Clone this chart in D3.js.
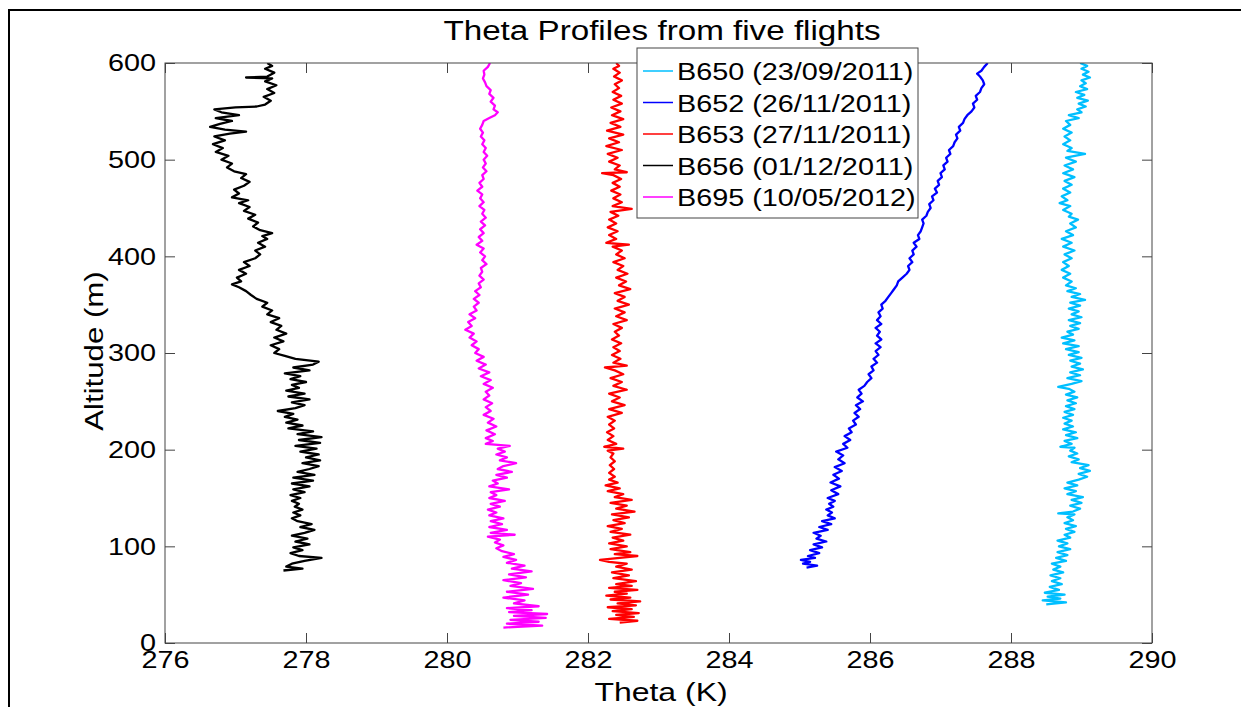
<!DOCTYPE html>
<html lang="en">
<head>
<meta charset="utf-8">
<title>Theta Profiles from five flights</title>
<script src="https://cdnjs.cloudflare.com/ajax/libs/d3/7.8.5/d3.min.js"></script>
<style>
  body { margin: 0; background: #fff; }
  svg { display: block; font-family: "Liberation Sans", Arial, sans-serif; }
  .axis text { font-size: 24px; fill: #000; font-family: "Liberation Sans", Arial, sans-serif; }
  .axis line { stroke: #444; }
  .axis path { display: none; }
</style>
</head>
<body>
<script>

// tick labels
var thetaTicks = [276, 278, 280, 282, 284, 286, 288, 290];
var altTicks = [0, 100, 200, 300, 400, 500, 600];

// flights, in the legend's order
var flightNames = ["B650 (23/09/2011)", "B652 (26/11/2011)", "B653 (27/11/2011)", "B656 (01/12/2011)", "B695 (10/05/2012)"];
var flightColors = ["#00bfff", "#0000ff", "#ff0000", "#000000", "#ff00ff"];

// [altitude (m), theta (K)]
var b650 = [[40,288.50],[42,288.78],[44,288.45],[46,288.70],[48,288.52],[50,288.76],[52,288.48],[55,288.68],[58,288.55],[61,288.72],[64,288.58],[67,288.70],[70,288.56],[73,288.74],[76,288.60],[79,288.70],[82,288.58],[85,288.78],[88,288.64],[91,288.80],[94,288.66],[97,288.84],[100,288.68],[103,288.80],[106,288.66],[109,288.84],[112,288.76],[115,288.90],[118,288.78],[121,288.92],[124,288.76],[127,288.88],[130,288.80],[133,288.90],[134,288.67],[136,288.88],[139,288.98],[142,288.84],[145,289.00],[148,288.86],[151,289.02],[154,288.80],[157,288.92],[160,288.76],[163,288.94],[166,288.80],[169,288.96],[172,289.08],[175,288.96],[178,289.12],[181,288.98],[184,289.10],[187,288.86],[190,288.96],[193,288.82],[196,288.94],[199,288.84],[202,288.90],[203,288.70],[206,288.86],[209,288.76],[212,288.94],[215,288.78],[218,288.92],[221,288.74],[224,288.88],[227,288.76],[230,288.86],[233,288.74],[236,288.88],[239,288.76],[242,288.90],[245,288.78],[248,288.92],[251,288.80],[254,288.94],[257,288.78],[260,288.90],[263,288.82],[265,288.67],[268,288.86],[271,289.00],[274,288.80],[277,288.98],[280,288.84],[283,289.02],[286,288.86],[289,288.98],[292,288.84],[295,289.00],[298,288.82],[301,288.96],[304,288.78],[307,288.96],[310,288.74],[313,288.90],[316,288.72],[319,288.88],[322,288.80],[325,288.96],[328,288.84],[331,288.98],[334,288.82],[337,289.00],[340,288.86],[343,288.96],[346,288.82],[349,288.98],[352,288.84],[355,289.05],[358,288.86],[361,288.98],[364,288.80],[367,288.92],[370,288.78],[374,288.86],[378,288.74],[382,288.84],[386,288.72],[390,288.82],[394,288.74],[398,288.86],[402,288.76],[406,288.90],[410,288.74],[414,288.86],[418,288.72],[422,288.88],[426,288.78],[430,288.92],[434,288.84],[438,288.95],[441,288.82],[444,288.86],[448,288.74],[452,288.84],[455,288.69],[458,288.80],[462,288.72],[466,288.84],[470,288.74],[474,288.86],[478,288.76],[482,288.90],[486,288.74],[490,288.88],[494,288.76],[498,288.92],[502,288.78],[506,289.05],[509,288.80],[512,288.86],[516,288.74],[520,288.84],[524,288.76],[528,288.86],[532,288.74],[536,288.84],[540,288.78],[543,288.96],[546,288.82],[549,289.00],[552,288.94],[555,289.06],[558,288.96],[561,289.09],[564,288.94],[567,289.04],[570,288.92],[573,289.08],[576,288.98],[579,289.06],[582,289.00],[585,289.12],[588,289.02],[591,289.10],[594,289.00],[597,289.08],[600,288.98]];

var b652 = [[78,285.10],[80,285.25],[82,285.05],[84,285.15],[86,285.02],[88,285.22],[90,285.12],[93,285.28],[96,285.15],[99,285.32],[102,285.20],[105,285.38],[108,285.24],[111,285.30],[114,285.20],[117,285.40],[120,285.28],[123,285.45],[126,285.32],[129,285.50],[132,285.40],[135,285.46],[138,285.38],[141,285.48],[144,285.42],[147,285.50],[150,285.40],[154,285.55],[158,285.45],[162,285.58],[166,285.44],[170,285.56],[174,285.48],[178,285.60],[182,285.50],[186,285.64],[190,285.55],[194,285.62],[198,285.52],[202,285.68],[206,285.62],[210,285.72],[214,285.64],[218,285.74],[222,285.70],[226,285.80],[230,285.76],[234,285.84],[238,285.78],[242,285.86],[246,285.80],[250,285.90],[254,285.82],[258,285.88],[262,285.84],[266,285.92],[270,285.96],[274,286.02],[278,285.98],[282,286.05],[286,286.02],[290,286.10],[294,286.05],[298,286.12],[302,286.08],[306,286.15],[310,286.08],[314,286.16],[318,286.10],[322,286.14],[326,286.08],[330,286.16],[334,286.10],[338,286.15],[342,286.12],[346,286.18],[350,286.16],[354,286.22],[358,286.26],[362,286.30],[366,286.34],[370,286.38],[374,286.40],[378,286.46],[382,286.52],[386,286.56],[390,286.54],[394,286.60],[398,286.56],[402,286.62],[406,286.60],[410,286.66],[414,286.62],[418,286.70],[422,286.68],[426,286.72],[430,286.74],[434,286.76],[438,286.74],[442,286.80],[446,286.82],[450,286.86],[454,286.84],[458,286.90],[462,286.88],[466,286.95],[470,286.92],[474,286.98],[478,286.96],[482,287.02],[486,287.00],[490,287.06],[494,287.04],[498,287.10],[502,287.08],[506,287.14],[510,287.12],[514,287.18],[518,287.20],[522,287.24],[526,287.22],[530,287.28],[534,287.26],[538,287.32],[542,287.34],[546,287.38],[550,287.44],[554,287.48],[558,287.46],[562,287.52],[566,287.50],[570,287.56],[574,287.58],[578,287.62],[582,287.60],[586,287.56],[589,287.52],[592,287.58],[596,287.62],[600,287.67]];

var b653 = [[21,282.45],[23,282.70],[25,282.30],[27,282.65],[29,282.40],[31,282.72],[33,282.35],[35,282.62],[37,282.28],[39,282.68],[41,282.42],[43,282.74],[45,282.32],[47,282.60],[49,282.26],[51,282.55],[53,282.38],[55,282.70],[57,282.30],[59,282.62],[61,282.40],[64,282.68],[67,282.36],[70,282.58],[73,282.34],[76,282.62],[79,282.40],[82,282.55],[84,282.30],[86,282.17],[88,282.45],[90,282.70],[92,282.38],[94,282.60],[97,282.32],[100,282.55],[103,282.30],[106,282.50],[109,282.35],[112,282.60],[115,282.32],[118,282.48],[121,282.28],[124,282.52],[127,282.36],[130,282.58],[133,282.34],[136,282.66],[139,282.40],[142,282.55],[145,282.32],[148,282.62],[151,282.38],[154,282.50],[157,282.28],[160,282.45],[163,282.25],[166,282.42],[169,282.30],[172,282.38],[176,282.30],[180,282.37],[184,282.31],[188,282.38],[192,282.32],[196,282.36],[199,282.28],[201,282.50],[203,282.23],[206,282.40],[210,282.28],[214,282.36],[218,282.27],[222,282.37],[226,282.30],[230,282.38],[234,282.28],[238,282.48],[242,282.30],[246,282.52],[250,282.34],[254,282.45],[258,282.30],[262,282.55],[266,282.36],[270,282.48],[274,282.32],[278,282.50],[282,282.38],[285,282.24],[287,282.55],[290,282.36],[294,282.46],[298,282.34],[302,282.45],[306,282.36],[310,282.47],[314,282.34],[318,282.44],[322,282.38],[326,282.48],[330,282.36],[334,282.55],[338,282.40],[342,282.52],[346,282.38],[350,282.58],[354,282.42],[358,282.52],[362,282.38],[366,282.60],[370,282.44],[374,282.54],[378,282.40],[382,282.56],[386,282.42],[390,282.50],[394,282.36],[398,282.52],[402,282.40],[406,282.48],[410,282.35],[412,282.58],[414,282.26],[418,282.40],[422,282.30],[426,282.42],[430,282.28],[434,282.40],[438,282.30],[442,282.43],[446,282.32],[449,282.62],[452,282.35],[456,282.48],[460,282.36],[464,282.46],[468,282.33],[472,282.45],[476,282.35],[480,282.47],[484,282.36],[486,282.20],[487,282.55],[490,282.38],[494,282.45],[498,282.30],[502,282.42],[506,282.28],[510,282.48],[514,282.26],[518,282.44],[522,282.30],[526,282.50],[530,282.27],[534,282.46],[538,282.32],[542,282.50],[546,282.34],[550,282.46],[554,282.33],[558,282.48],[562,282.36],[566,282.47],[570,282.35],[574,282.44],[578,282.38],[582,282.48],[586,282.37],[590,282.45],[594,282.36],[597,282.44],[600,282.40]];

var b656 = [[75,277.68],[77,277.95],[79,277.72],[82,277.80],[85,277.98],[88,278.22],[90,277.90],[93,277.78],[96,277.95],[99,277.82],[102,278.05],[105,277.85],[108,278.02],[111,277.80],[114,277.98],[117,278.12],[120,277.92],[123,278.08],[126,277.88],[129,277.80],[132,277.92],[135,277.82],[138,277.95],[141,277.84],[144,277.90],[147,277.80],[150,277.92],[153,277.78],[156,277.98],[159,277.82],[162,278.05],[165,277.80],[168,278.10],[171,277.82],[174,278.12],[177,277.88],[180,278.05],[183,278.18],[186,277.95],[189,278.20],[192,278.00],[195,278.18],[198,277.92],[201,278.15],[204,277.85],[207,278.20],[210,277.90],[213,278.22],[216,277.88],[219,278.10],[222,277.75],[225,277.95],[228,277.72],[231,277.88],[234,277.70],[237,277.82],[240,277.60],[243,277.85],[246,277.98],[249,277.80],[252,278.05],[255,277.75],[258,277.98],[261,277.72],[264,277.90],[267,277.80],[270,278.00],[273,277.78],[276,277.92],[279,277.70],[282,278.05],[285,277.82],[288,278.10],[291,278.18],[294,277.85],[297,277.70],[300,277.55],[304,277.62],[308,277.50],[312,277.68],[316,277.55],[320,277.72],[324,277.58],[328,277.65],[332,277.50],[336,277.62],[340,277.45],[344,277.52],[348,277.38],[352,277.45],[356,277.30],[360,277.22],[364,277.15],[368,277.05],[371,276.95],[374,277.08],[378,277.02],[382,277.15],[386,277.05],[390,277.20],[394,277.12],[398,277.28],[402,277.35],[406,277.28],[410,277.42],[414,277.32],[418,277.45],[421,277.38],[424,277.52],[427,277.35],[431,277.25],[435,277.32],[439,277.18],[443,277.28],[447,277.12],[451,277.20],[455,277.05],[458,277.18],[461,276.95],[465,277.05],[469,276.98],[473,277.12],[477,277.20],[481,277.08],[485,277.15],[488,276.98],[492,276.88],[496,276.95],[500,276.80],[504,276.90],[508,276.72],[512,276.82],[516,276.68],[520,276.85],[524,276.70],[527,276.92],[529,277.15],[531,276.85],[534,276.64],[537,276.78],[540,276.95],[543,276.72],[546,277.05],[549,276.80],[552,276.70],[554,277.00],[555,277.30],[557,277.42],[561,277.50],[565,277.40],[569,277.55],[573,277.45],[577,277.58],[581,277.42],[584,277.52],[585,277.15],[586,277.45],[590,277.55],[594,277.42],[597,277.52],[600,277.45]];

var b695 = [[16,280.80],[18,281.35],[20,280.85],[22,281.30],[24,280.90],[26,281.40],[28,280.95],[30,281.42],[32,280.88],[34,281.20],[36,280.85],[38,281.30],[41,280.95],[44,281.10],[47,280.80],[50,281.15],[53,280.85],[56,281.22],[59,280.90],[62,281.05],[65,280.80],[68,281.12],[71,280.88],[74,281.20],[77,280.92],[80,281.10],[83,280.85],[86,280.98],[89,280.80],[92,280.95],[95,280.78],[98,280.70],[101,280.80],[104,280.68],[107,280.75],[110,280.58],[112,280.96],[114,280.62],[117,280.85],[120,280.60],[123,280.78],[126,280.62],[129,280.80],[132,280.60],[135,280.70],[138,280.58],[141,280.75],[144,280.62],[147,280.82],[150,280.60],[153,280.70],[156,280.62],[159,280.88],[162,280.60],[165,280.72],[168,280.65],[171,280.85],[174,280.70],[177,280.92],[180,280.72],[183,280.80],[186,280.98],[189,280.75],[192,280.85],[195,280.70],[198,280.82],[201,280.72],[204,280.89],[206,280.55],[209,280.65],[212,280.55],[216,280.68],[220,280.56],[224,280.70],[228,280.58],[232,280.66],[236,280.52],[240,280.62],[244,280.55],[248,280.64],[252,280.52],[256,280.60],[260,280.55],[264,280.65],[268,280.52],[272,280.62],[276,280.48],[280,280.60],[284,280.45],[288,280.55],[292,280.42],[296,280.52],[300,280.40],[304,280.45],[308,280.35],[312,280.42],[316,280.32],[320,280.38],[324,280.26],[328,280.35],[332,280.30],[336,280.40],[340,280.32],[344,280.42],[348,280.38],[352,280.45],[356,280.38],[360,280.46],[364,280.40],[368,280.48],[372,280.45],[376,280.52],[380,280.46],[384,280.50],[388,280.48],[392,280.56],[396,280.50],[400,280.54],[404,280.47],[408,280.52],[412,280.42],[416,280.50],[420,280.45],[424,280.52],[428,280.47],[432,280.54],[436,280.48],[440,280.55],[444,280.50],[448,280.53],[452,280.46],[456,280.52],[460,280.47],[464,280.50],[468,280.43],[472,280.50],[476,280.46],[480,280.52],[484,280.50],[488,280.56],[492,280.51],[496,280.55],[500,280.52],[504,280.57],[508,280.52],[512,280.55],[516,280.50],[520,280.53],[524,280.48],[528,280.51],[532,280.47],[536,280.50],[540,280.52],[543,280.60],[546,280.68],[549,280.72],[552,280.66],[556,280.68],[560,280.62],[564,280.66],[568,280.60],[572,280.62],[576,280.56],[580,280.54],[584,280.51],[588,280.53],[592,280.52],[596,280.58],[600,280.61]];

var flightData = [b650, b652, b653, b656, b695];

//Width and height
var w = 1241;
var h = 707;
var plotLeft = 165, plotRight = 1152, plotTop = 63, plotBottom = 643;
var stretch = 1.2;   // the reference text is drawn wider than the font

var svg = d3.select("body")
    .append("svg")
    .attr("width", w)
    .attr("height", h);

//Figure frame
svg.append("rect")
    .attr("x", 9).attr("y", 10)
    .attr("width", w + 20).attr("height", h + 20)
    .attr("fill", "#fff")
    .attr("stroke", "#000")
    .attr("stroke-width", 2);

//Scales
var xScale = d3.scaleLinear().domain([276, 290]).range([plotLeft, plotRight]);
var yScale = d3.scaleLinear().domain([0, 600]).range([plotBottom, plotTop]);

//Clip to the axes box
svg.append("clipPath").attr("id", "plotclip")
    .append("rect")
    .attr("x", plotLeft).attr("y", plotTop)
    .attr("width", plotRight - plotLeft).attr("height", plotBottom - plotTop);

//Profiles
var line = d3.line()
    .x(function(d) { return xScale(d[1]); })
    .y(function(d) { return yScale(d[0]); });

svg.append("g")
    .attr("clip-path", "url(#plotclip)")
    .selectAll("path")
    .data(flightData)
    .enter()
    .append("path")
    .attr("d", line)
    .attr("fill", "none")
    .attr("stroke", function(d, i) { return flightColors[i]; })
    .attr("stroke-width", 2.3)
    .attr("stroke-linejoin", "round");

//Axes (ticks pointing inward, labels on bottom and left only)
var xAxisG = svg.append("g").attr("class", "axis")
    .attr("transform", "translate(0," + plotBottom + ")")
    .call(d3.axisBottom(xScale).tickValues(thetaTicks).tickSizeInner(-10).tickSizeOuter(0).tickPadding(8));
svg.append("g").attr("class", "axis")
    .attr("transform", "translate(0," + plotTop + ")")
    .call(d3.axisTop(xScale).tickValues(thetaTicks).tickSizeInner(-10).tickSizeOuter(0).tickFormat(""));
var yAxisG = svg.append("g").attr("class", "axis")
    .attr("transform", "translate(" + plotLeft + ",0)")
    .call(d3.axisLeft(yScale).tickValues(altTicks).tickSizeInner(-10).tickSizeOuter(0).tickPadding(9));
svg.append("g").attr("class", "axis")
    .attr("transform", "translate(" + plotRight + ",0)")
    .call(d3.axisRight(yScale).tickValues(altTicks).tickSizeInner(-10).tickSizeOuter(0).tickFormat(""));

//widen tick labels like the reference
xAxisG.selectAll("text").attr("transform", "scale(" + stretch + ",1)");
yAxisG.selectAll("text").each(function() {
    var t = d3.select(this);
    var x = +t.attr("x");
    t.attr("transform", "translate(" + x + ",0) scale(" + stretch + ",1) translate(" + (-x) + ",0)");
});

//Axes box
svg.append("rect")
    .attr("x", plotLeft).attr("y", plotTop)
    .attr("width", plotRight - plotLeft).attr("height", plotBottom - plotTop)
    .attr("fill", "none")
    .attr("stroke", "#444")
    .attr("stroke-width", 1);

//Title and axis labels
function wideText(x, y, size, sx, str, rotate) {
    return svg.append("text")
        .attr("transform", "translate(" + x + "," + y + ")" + (rotate ? " rotate(-90)" : "") + " scale(" + sx + ",1)")
        .attr("text-anchor", "middle")
        .attr("font-size", size)
        .text(str);
}
wideText(662, 40, 27, 1.23, "Theta Profiles from five flights");
wideText(661, 701, 26, 1.23, "Theta (K)");
wideText(103, 351, 26, 1.2, "Altitude (m)", true);

//Legend
var legend = svg.append("g");
legend.append("rect")
    .attr("x", 637).attr("y", 48)
    .attr("width", 281).attr("height", 170)
    .attr("fill", "#fff")
    .attr("stroke", "#444")
    .attr("stroke-width", 1);

var rows = legend.selectAll("g.row")
    .data(flightNames)
    .enter()
    .append("g")
    .attr("class", "row")
    .attr("transform", function(d, i) { return "translate(0," + (71 + i * 31.5) + ")"; });
rows.append("line")
    .attr("x1", 643).attr("x2", 673)
    .attr("stroke", function(d, i) { return flightColors[i]; })
    .attr("stroke-width", 1.5);
rows.append("text")
    .attr("transform", "translate(677,9) scale(1.2,1)")
    .attr("font-size", 24)
    .text(function(d) { return d; });

</script>
</body>
</html>
